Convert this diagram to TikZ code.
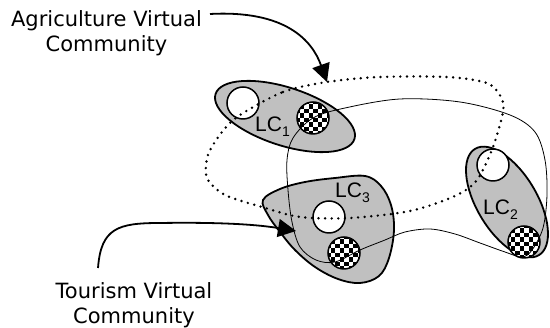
\documentclass[tikz,border=0pt]{standalone}
\usepackage{fontspec}
\usetikzlibrary{arrows.meta}
\newfontfamily\dvfont{DejaVu Sans}
\newfontfamily\lcfont{Liberation Sans}
\definecolor{lcgray}{HTML}{C0C0C0}
\tikzset{
  lcshape/.style={draw=black, line width=1.8pt, fill=lcgray},
  whitec/.style={draw=black, line width=1.5pt, fill=white},
  chkring/.style={draw=black, line width=1.5pt},
  vcline/.style={line width=2.7pt, dash pattern=on 0pt off 6.6pt, line cap=round},
  linkline/.style={line width=0.8pt},
  bigarrow/.style={line width=1.8pt, -{Triangle[length=18pt,width=18pt]}},
  vclabel/.style={font=\dvfont\fontsize{21pt}{25pt}\selectfont, align=center, inner sep=0pt},
  lclabel/.style={font=\lcfont\fontsize{21pt}{25pt}\selectfont, inner sep=0pt, anchor=base west},
}
\newcommand\lcsub[1]{\raisebox{-5pt}{\fontsize{14pt}{14pt}\selectfont #1}}
\newcommand\chkcircle[1]{%
  \begin{scope}[shift={#1}]
    \begin{scope}
      \clip (0,0) circle[radius=16pt];
      \fill[white] (-20,-20) rectangle (20,20);
      \foreach \i in {-4,...,3}{\foreach \j in {-4,...,3}{%
        \pgfmathtruncatemacro\chkpar{mod(\i+\j+8,2)}%
        \ifnum\chkpar=0 \fill[black] (\i*4.5,\j*4.5) rectangle ++(4.5,4.5);\fi}}
    \end{scope}
    \draw[chkring] (0,0) circle[radius=16pt];
  \end{scope}}
\begin{document}
\begin{tikzpicture}[x=1pt,y=-1pt]
\useasboundingbox (0,0) rectangle (550,328);
% local communities
\coordinate (lc1c) at (285,116.5);
\coordinate (lc2c) at (507,202);
\draw[lcshape, rotate around={-18:(lc1c)}] (lc1c) ellipse [x radius=73pt, y radius=29pt];
\draw[lcshape, rotate around={-59:(lc2c)}] (lc2c) ellipse [x radius=62pt, y radius=30pt];
\draw[lcshape] plot[smooth cycle, tension=0.6] coordinates {(263,200) (280,189) (305,182) (335,178) (365,176) (381,186) (391,205) (394,230) (389,258) (379,276) (360,283) (338,279) (315,267) (295,250) (280,232) (268,215)};
% white circles
\draw[whitec] (243,103) circle[radius=16pt];
\draw[whitec] (329,217) circle[radius=16pt];
\draw[whitec] (493,165) circle[radius=16pt];
% checkered circles
\chkcircle{(313,118)}
\chkcircle{(344,253)}
\chkcircle{(524,242)}
% virtual community boundary (dotted)
\draw[vcline] plot[smooth cycle] coordinates {(240,115) (283,92) (327,82) (380,77) (447,77) (487,83) (501,97) (503,112) (493,147) (477,180) (455,196) (410,211) (350,218) (300,217) (262,207) (225,195) (207,178) (208,155) (222,132)};
% thin link curve
\draw[linkline] plot[smooth cycle, tension=0.55] coordinates {(313,118) (345,108) (400,99) (460,102) (510,115) (535,132) (545,160) (547,195) (543,228) (532,250) (522,257) (505,252) (480,243) (455,234) (430,229) (405,232) (385,240) (360,250) (335,262) (316,260) (300,247) (292,222) (288,190) (287,160) (293,138)};
% labels
\node[lclabel] (lc1) at (255,132) {LC\lcsub{1}};
\node[lclabel] (lc3) at (335,198) {LC\lcsub{3}};
\node[lclabel] (lc2) at (483,215) {LC\lcsub{2}};
\node[vclabel, anchor=base] (agri) at (106.5,51.7) {Agriculture Virtual\\Community};
\node[vclabel, anchor=base] (tour) at (134,323.3) {Tourism Virtual\\Community};
% arrows
\coordinate (agstart) at (210,14);
\coordinate (agtip) at (327,82);
\coordinate (tostart) at (98,268);
\coordinate (totip) at (296,231);
\draw[bigarrow] (agstart) .. controls (285,10) and (312,40) .. (agtip);
\draw[bigarrow] (tostart) .. controls (101,228) and (118,223) .. (160,223) .. controls (225,222) and (260,225) .. (totip);
\end{tikzpicture}
\end{document}
